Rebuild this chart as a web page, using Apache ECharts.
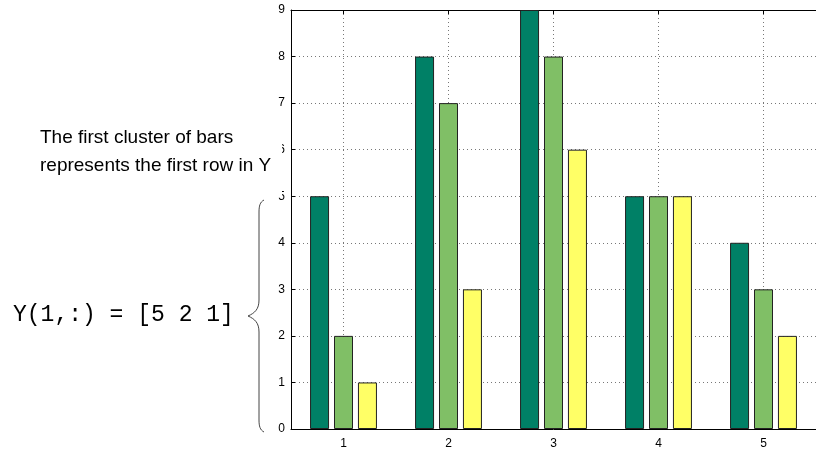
<!DOCTYPE html>
<html><head><meta charset="utf-8">
<script src="https://cdn.jsdelivr.net/npm/echarts@6/dist/echarts.min.js"></script>
<style>html,body{margin:0;padding:0;background:#fff}#c{width:816px;height:450px}</style>
</head><body><div id="c"></div>
<script>
const categories = ['1', '2', '3', '4', '5'];
const series1 = [5, 8, 9, 5, 4];
const series2 = [2, 7, 8, 5, 3];
const series3 = [1, 3, 6, 5, 2];
const yMin = 0, yMax = 9, yStep = 1;
const note1 = 'The first cluster of bars\nrepresents the first row in Y';
const note2 = 'Y(1,:) = [5 2 1]';
const colors = ['#008066', '#80BF66', '#FFFF66'];

const chart = echarts.init(document.getElementById('c'), null, {renderer: 'canvas'});
const dotted = {show: true, lineStyle: {type: [1, 3], color: '#777', width: 1}};
const axisFont = {color: '#000', fontSize: 12, fontFamily: 'Liberation Sans'};
const mkBar = (vals, i) => ({
  type: 'bar', data: vals, xAxisIndex: 0, yAxisIndex: 0,
  barWidth: 19, barGap: '26%',
  itemStyle: {color: colors[i], borderColor: '#222', borderWidth: 1},
  emphasis: {disabled: true}, animation: false
});
const braceStyle = {stroke: '#444', fill: null, lineWidth: 1};
chart.setOption({
  animation: false,
  grid: {left: 291, top: 10, right: -9.5, bottom: 17, containLabel: false},
  xAxis: [
    {type: 'category', data: categories, position: 'bottom', boundaryGap: true,
     axisLine: {show: true, lineStyle: {color: '#000', width: 1}},
     axisTick: {show: true, inside: true, alignWithLabel: true, length: 4, lineStyle: {color: '#000'}},
     axisLabel: Object.assign({margin: 9}, axisFont),
     splitLine: {show: false}},
    {type: 'value', min: 0.5, max: 5.5, position: 'top',
     axisLine: {show: true, onZero: false, lineStyle: {color: '#000', width: 1}},
     axisTick: {show: true, inside: true, length: 4, lineStyle: {color: '#000'}},
     axisLabel: {show: false},
     splitLine: dotted}
  ],
  yAxis: {type: 'value', min: yMin, max: yMax, interval: yStep,
    axisLine: {show: true, lineStyle: {color: '#000', width: 1}},
    axisTick: {show: true, inside: true, length: 4, lineStyle: {color: '#000'}},
    axisLabel: Object.assign({margin: 6}, axisFont),
    splitLine: dotted},
  series: [mkBar(series1, 0), mkBar(series2, 1), mkBar(series3, 2)],
  graphic: [
    {type: 'rect', z: 100, shape: {x: 35, y: 112, width: 247, height: 84}, style: {fill: '#fff'}},
    {type: 'text', z: 101, x: 40, y: 124, style: {text: note1, font: '19px "Liberation Sans"', fill: '#000', lineHeight: 28}},
    {type: 'text', z: 101, x: 13, y: 315, style: {text: note2, font: '23px "Liberation Mono"', fill: '#000', verticalAlign: 'middle'}},
    {type: 'bezierCurve', z: 101, shape: {x1: 264, y1: 200, cpx1: 260, cpy1: 202, cpx2: 259, cpy2: 206, x2: 259, y2: 212}, style: braceStyle},
    {type: 'line', z: 101, shape: {x1: 259, y1: 212, x2: 259, y2: 300}, style: braceStyle},
    {type: 'bezierCurve', z: 101, shape: {x1: 259, y1: 300, cpx1: 259, cpy1: 309, cpx2: 255, cpy2: 313, x2: 248, y2: 316}, style: braceStyle},
    {type: 'bezierCurve', z: 101, shape: {x1: 248, y1: 316, cpx1: 255, cpy1: 319, cpx2: 259, cpy2: 323, x2: 259, y2: 332}, style: braceStyle},
    {type: 'line', z: 101, shape: {x1: 259, y1: 332, x2: 259, y2: 420}, style: braceStyle},
    {type: 'bezierCurve', z: 101, shape: {x1: 259, y1: 420, cpx1: 259, cpy1: 426, cpx2: 260, cpy2: 430, x2: 264, y2: 432}, style: braceStyle}
  ]
});
</script>
</body></html>
